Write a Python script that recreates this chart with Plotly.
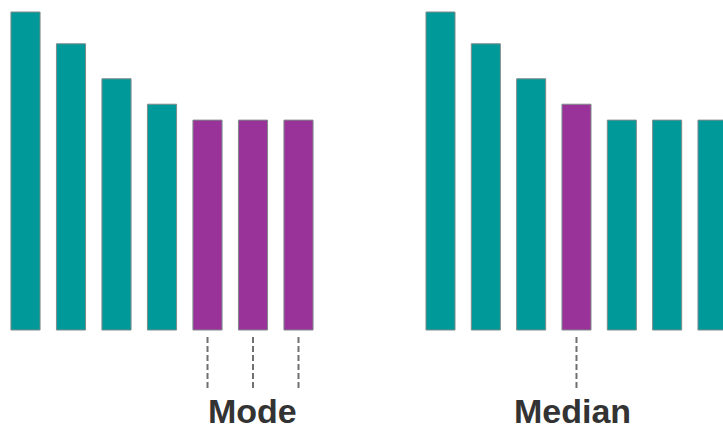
import plotly.graph_objects as go

# Data
categories = ["1", "2", "3", "4", "5", "6", "7"]
values = [10, 9, 7.9, 7.1, 6.6, 6.6, 6.6]
mode_colors = ["teal", "teal", "teal", "teal", "purple", "purple", "purple"]
median_colors = ["teal", "teal", "teal", "purple", "teal", "teal", "teal"]
mode_marked = [4, 5, 6]
median_marked = [3]
labels = ["Mode", "Median"]

palette = {"teal": "#009999", "purple": "#993399"}
xs = list(range(len(categories)))

fig = go.Figure()
fig.add_trace(go.Bar(x=xs, y=values, width=0.64,
                     marker=dict(color=[palette[c] for c in mode_colors],
                                 line=dict(color="#7f8a8a", width=1)),
                     xaxis="x", yaxis="y", hoverinfo="skip"))
fig.add_trace(go.Bar(x=xs, y=values, width=0.64,
                     marker=dict(color=[palette[c] for c in median_colors],
                                 line=dict(color="#7f8a8a", width=1)),
                     xaxis="x2", yaxis="y2", hoverinfo="skip"))

shapes = []
for i in mode_marked:
    shapes.append(dict(type="line", xref="x", yref="y", x0=i, x1=i, y0=-0.22, y1=-1.82,
                       line=dict(color="#707070", width=2, dash="6px,3px")))
for i in median_marked:
    shapes.append(dict(type="line", xref="x2", yref="y2", x0=i, x1=i, y0=-0.22, y1=-1.82,
                       line=dict(color="#707070", width=2, dash="6px,3px")))

annotations = [
    dict(text=f"<b>{labels[0]}</b>", xref="x", yref="paper", x=4.98, y=(431 - 411) / 431,
         showarrow=False, font=dict(family="Liberation Sans, Arial", size=34, color="#333333"),
         xanchor="center", yanchor="middle"),
    dict(text=f"<b>{labels[1]}</b>", xref="x2", yref="paper", x=2.92, y=(431 - 411) / 431,
         showarrow=False, font=dict(family="Liberation Sans, Arial", size=34, color="#333333"),
         xanchor="center", yanchor="middle"),
]

yr = [-101 / 31.8, 330 / 31.8]
ax_common = dict(showgrid=False, zeroline=False, showticklabels=False, showline=False, ticks="")
fig.update_layout(
    width=723, height=431,
    margin=dict(l=0, r=0, t=0, b=0),
    paper_bgcolor="white", plot_bgcolor="rgba(0,0,0,0)",
    showlegend=False,
    xaxis=dict(domain=[0, 0.45], range=[-25.5 / 45.5, (325.35 - 25.5) / 45.5], **ax_common),
    yaxis=dict(domain=[0, 1], range=yr, **ax_common),
    xaxis2=dict(domain=[0.55, 1], range=[(397.65 - 440.5) / 45.33, (723 - 440.5) / 45.33], **ax_common),
    yaxis2=dict(domain=[0, 1], range=yr, anchor="x2", **ax_common),
    shapes=shapes, annotations=annotations,
)
fig.write_html("out.html", config={"displayModeBar": False},
               post_script="document.body.style.margin='0';document.body.style.overflow='hidden';")
